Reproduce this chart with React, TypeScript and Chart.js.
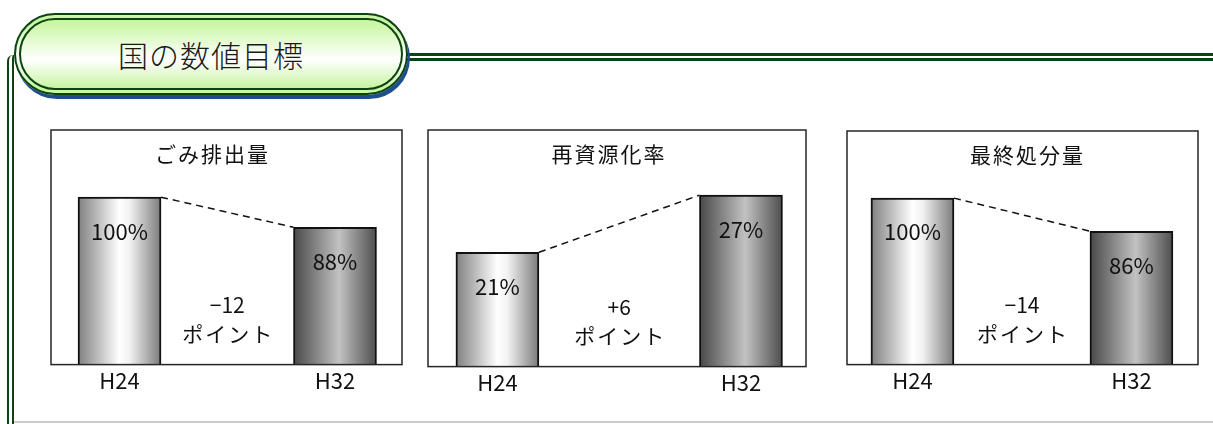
import React, { useEffect, useRef } from 'react';
import { Chart, registerables } from 'chart.js';

Chart.register(...registerables);

const categories = ['H24', 'H32'];
const panelTitles = ['ごみ排出量', '再資源化率', '最終処分量'];
const wasteValues = [100, 88];
const recycleValues = [21, 27];
const landfillValues = [100, 86];
const pointWord = 'ポイント';
const headline = '国の数値目標';

const FONT = '"Noto Sans CJK JP", "Noto Sans", sans-serif';

interface PanelProps {
  title: string;
  values: number[];
  box: { left: number; top: number; width: number; height: number };
  yMin: number;
  yMax: number;
  xMin: number;
  xMax: number;
  titleShift: number;
}

const lightStops: [number, string][] = [[0, '#7e7e7e'], [0.5, '#ffffff'], [0.62, '#f2f2f2'], [1, '#787878']];
const darkStops: [number, string][] = [[0, '#474747'], [0.55, '#c2c2c2'], [1, '#4c4c4c']];

const PAD = 10;
const AXIS_ROOM = 50;

const BarPanel: React.FC<PanelProps> = ({ title, values, box, yMin, yMax, xMin, xMax, titleShift }) => {
  const canvasRef = useRef<HTMLCanvasElement>(null);

  useEffect(() => {
    if (!canvasRef.current) return;
    const ctx = canvasRef.current.getContext('2d');
    if (!ctx) return;

    const overlay = {
      id: 'panelOverlay',
      afterDatasetsDraw(chart: Chart) {
        const { ctx: c, chartArea: a } = chart;
        const bars = chart.getDatasetMeta(0).data as any[];
        c.save();

        // frame
        c.strokeStyle = '#262626';
        c.lineWidth = 1.5;
        c.strokeRect(a.left, a.top, a.right - a.left, a.bottom - a.top);

        // dashed connector between bar tops
        if (bars.length === 2) {
          const b0 = bars[0].getProps(['x', 'y', 'width'], true);
          const b1 = bars[1].getProps(['x', 'y', 'width'], true);
          c.setLineDash([7, 5]);
          c.lineWidth = 1.5;
          c.strokeStyle = '#111';
          c.beginPath();
          c.moveTo(b0.x + b0.width / 2, b0.y);
          c.lineTo(b1.x - b1.width / 2, b1.y);
          c.stroke();
          c.setLineDash([]);

          // values inside the bars
          c.fillStyle = '#111';
          c.textAlign = 'center';
          c.textBaseline = 'middle';
          c.font = `22px ${FONT}`;
          [b0, b1].forEach((b, i) => {
            c.fillText(`${values[i]}%`, b.x, b.y + 34);
          });

          // change in points
          const diff = values[1] - values[0];
          const diffText = diff > 0 ? `+${diff}` : `−${Math.abs(diff)}`;
          const mid = (b0.x + b1.x) / 2;
          c.font = `21px ${FONT}`;
          c.fillText(diffText, mid, a.bottom - 60);
          (c as any).letterSpacing = '2px';
          c.fillText(pointWord, mid + 1, a.bottom - 31);
        }

        // panel title
        (c as any).letterSpacing = '2px';
        c.font = `21px ${FONT}`;
        c.fillStyle = '#111';
        c.textAlign = 'center';
        c.textBaseline = 'middle';
        c.fillText(title, (a.left + a.right) / 2 + titleShift, a.top + 24);
        c.restore();
      },
    };

    const chart = new Chart(ctx, {
      type: 'bar',
      data: {
        datasets: [
          {
            data: values.map((v, i) => ({ x: i, y: v })),
            base: yMin,
            barThickness: 83,
            borderColor: '#111',
            borderWidth: 2,
            borderSkipped: 'bottom',
            backgroundColor: (c: any) => {
              const xs = c.chart.scales.x;
              if (!xs || c.dataIndex === undefined) return '#aaa';
              const cx = xs.getPixelForValue(c.dataIndex);
              if (!Number.isFinite(cx)) return '#aaa';
              const g = c.chart.ctx.createLinearGradient(cx - 42, 0, cx + 42, 0);
              (c.dataIndex === 0 ? lightStops : darkStops).forEach(([o, col]) => g.addColorStop(o, col));
              return g;
            },
          } as any,
        ],
      },
      options: {
        animation: false,
        responsive: false,
        maintainAspectRatio: false,
        layout: { padding: { left: PAD, right: PAD, top: PAD, bottom: AXIS_ROOM - 33 } },
        plugins: {
          legend: { display: false },
          tooltip: { enabled: false },
        },
        scales: {
          x: {
            type: 'linear',
            offset: false,
            min: xMin,
            max: xMax,
            grid: { display: false, drawTicks: false, offset: false },
            border: { display: false },
            afterBuildTicks: (axis: any) => {
              axis.ticks = categories.map((_, i) => ({ value: i }));
            },
            ticks: {
              padding: 3,
              color: '#111',
              font: { family: FONT, size: 22 },
              callback: (v: any) => categories[Number(v)] ?? '',
            },
          },
          y: {
            display: false,
            min: yMin,
            max: yMax,
          },
        },
      },
      plugins: [overlay],
    });

    return () => {
      chart.destroy();
    };
  }, [title, values, yMin, yMax, xMin, xMax, titleShift]);

  return (
    <canvas
      ref={canvasRef}
      width={box.width + PAD * 2}
      height={box.height + PAD + AXIS_ROOM}
      style={{
        position: 'absolute',
        left: box.left - PAD,
        top: box.top - PAD,
        width: box.width + PAD * 2,
        height: box.height + PAD + AXIS_ROOM,
      }}
    />
  );
};

const GREEN = '#0b4311';

const App: React.FC = () => {
  return (
    <div
      style={{
        position: 'fixed',
        left: 0,
        top: 0,
        width: 1213,
        height: 424,
        background: '#fff',
        overflow: 'hidden',
        fontFamily: FONT,
      }}
    >
      {/* outer frame lines */}
      <div style={{ position: 'absolute', left: 7, top: 55, height: 380, borderLeft: `7px double ${GREEN}`, borderTopLeftRadius: 6 }} />
      <div style={{ position: 'absolute', left: 400, top: 53, width: 820, borderTop: `8px double ${GREEN}` }} />
      <div style={{ position: 'absolute', left: 14, top: 421, width: 1210, borderTop: '2px solid #c9cdc9' }} />

      {/* headline pill */}
      <div
        style={{
          position: 'absolute',
          left: 14,
          top: 13,
          width: 394,
          height: 82,
          boxSizing: 'border-box',
          borderRadius: 41,
          border: `7px double ${GREEN}`,
          backgroundClip: 'padding-box',
          background: 'linear-gradient(to bottom, #c6f69c 0%, #ffffff 58%, #c8f4a2 100%)',
          boxShadow: '2px 4px 0 0 #1d4f8e',
          display: 'flex',
          alignItems: 'center',
          justifyContent: 'center',
          fontSize: 30,
          fontWeight: 300,
          color: '#1a1a1a',
          letterSpacing: 1,
        }}
      >
        {headline}
      </div>

      <BarPanel
        title={panelTitles[0]}
        values={wasteValues}
        box={{ left: 51, top: 130, width: 351, height: 234 }}
        yMin={33.2}
        yMax={126.8}
        xMin={-0.318}
        xMax={1.311}
        titleShift={-14}
      />
      <BarPanel
        title={panelTitles[1]}
        values={recycleValues}
        box={{ left: 428, top: 130, width: 378, height: 236 }}
        yMin={9}
        yMax={33.84}
        xMin={-0.285}
        xMax={1.267}
        titleShift={-8}
      />
      <BarPanel
        title={panelTitles[2]}
        values={landfillValues}
        box={{ left: 847, top: 131, width: 351, height: 233 }}
        yMin={29.57}
        yMax={128.4}
        xMin={-0.299}
        xMax={1.304}
        titleShift={5}
      />
    </div>
  );
};

export default App;
